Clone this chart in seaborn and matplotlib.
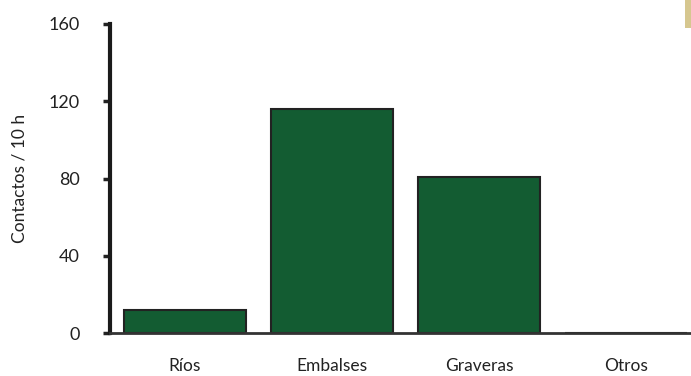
import matplotlib
matplotlib.use("Agg")
import matplotlib.pyplot as plt
import seaborn as sns
import pandas as pd
from matplotlib.patches import Rectangle

categories = ["Ríos", "Embalses", "Graveras", "Otros"]
values = [12, 116, 81, 0]
yticks = [0, 40, 80, 120, 160]

df = pd.DataFrame({"cat": categories, "val": values})

sns.set_style("white")
plt.rcParams['font.family'] = ['Lato', 'DejaVu Sans']

fig = plt.figure(figsize=(6.91, 3.76), dpi=100)
ax = fig.add_axes([110/691, 1-333/376, 1-110/691, (333-24)/376])

sns.barplot(data=df, x="cat", y="val", ax=ax, color="#135c32", saturation=1,
            width=0.83, edgecolor="#222222", linewidth=1.5)

ax.set_ylim(0, 160)
ax.set_xlim(-0.51, 3.44)
ax.set_yticks(yticks)
ax.set_yticklabels([str(v) for v in yticks], fontsize=13, color="#222222")
ax.tick_params(axis='y', length=5, width=2.5, color="#222222", pad=17, left=True, direction='out')
ax.tick_params(axis='x', length=0, pad=18, labelsize=12.5, labelcolor="#222222")
ax.set_xlabel("")
ax.set_ylabel("Contactos / 10 h", fontsize=12.5, color="#222222", labelpad=15)

for s in ["top", "right"]:
    ax.spines[s].set_visible(False)
ax.spines["left"].set_linewidth(3)
ax.spines["left"].set_color("#1a1a1a")
ax.spines["bottom"].set_linewidth(2)
ax.spines["bottom"].set_color("#333333")

fig.patches.append(Rectangle((685/691, 1-28/376), 6/691, 28/376, transform=fig.transFigure,
                             facecolor="#d6c78f", edgecolor="none", figure=fig))

fig.savefig("out.png", dpi=100)
